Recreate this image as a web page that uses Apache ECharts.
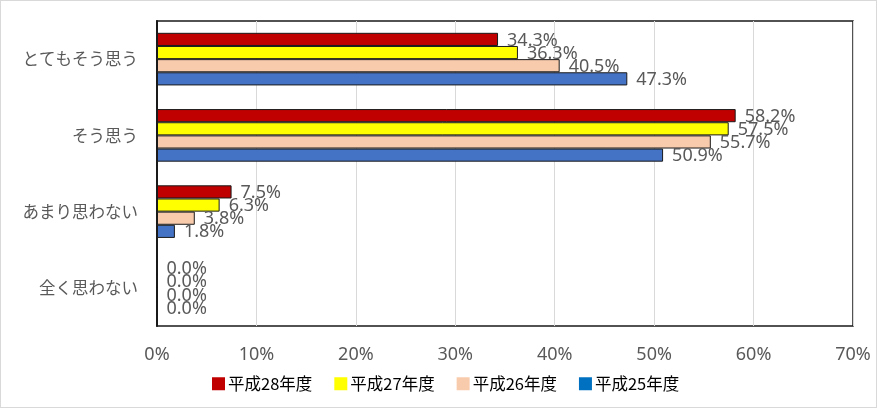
<!DOCTYPE html>
<html>
<head>
<meta charset="utf-8">
<script src="https://cdn.jsdelivr.net/npm/echarts@6/dist/echarts.min.js"></script>
<style>
  html, body { margin: 0; padding: 0; background: #fff; }
  #chart { width: 877px; height: 408px; box-sizing: border-box; border: 1px solid #d9d9d9; }
</style>
</head>
<body>
<div id="chart"></div>
<script>
// 回答カテゴリ（上から順）
const categories = ['とてもそう思う', 'そう思う', 'あまり思わない', '全く思わない'];

// 年度ごとの割合 (%)
const h28 = [34.3, 58.2, 7.5, 0.0];
const h27 = [36.3, 57.5, 6.3, 0.0];
const h26 = [40.5, 55.7, 3.8, 0.0];
const h25 = [47.3, 50.9, 1.8, 0.0];

const seriesNames = ['平成28年度', '平成27年度', '平成26年度', '平成25年度'];
const xTicks = [0, 10, 20, 30, 40, 50, 60, 70];

const COLORS = {
  h28: '#C00000',
  h27: '#FFFF00',
  h26: '#F8CBAD',
  h25: '#4472C4',
  h25Legend: '#0070C0',
  grid: '#d9d9d9',
  text: '#595959',
  border: '#1a1a1a'
};

const FONT = '"Noto Sans CJK JP", "Noto Sans", sans-serif';

const chart = echarts.init(document.getElementById('chart'));

const makeSeries = (name, data, color) => ({
  name,
  type: 'bar',
  data,
  barGap: '0%',
  barCategoryGap: '31%',
  itemStyle: { color, borderColor: COLORS.border, borderWidth: 1 },
  label: {
    show: true,
    position: 'right',
    distance: 9,
    offset: [0, 1],
    color: COLORS.text,
    fontSize: 18,
    fontFamily: '"Noto Sans", sans-serif',
    formatter: (p) => p.value.toFixed(1) + '%'
  }
});

chart.setOption({
  animation: false,
  backgroundColor: '#fff',
  grid: {
    left: 156, right: 23, top: 20, bottom: 81,
    show: true,
    borderColor: COLORS.border,
    borderWidth: 1.5
  },
  legend: {
    bottom: 10,
    left: 206,
    itemWidth: 13,
    itemHeight: 13,
    itemGap: 22,
    icon: 'rect',
    textStyle: { fontSize: 16.5, color: '#000', fontFamily: FONT, padding: [0, 0, 0, -2] },
    data: [
      { name: seriesNames[0], itemStyle: { color: COLORS.h28, borderWidth: 0 } },
      { name: seriesNames[1], itemStyle: { color: COLORS.h27, borderWidth: 0 } },
      { name: seriesNames[2], itemStyle: { color: COLORS.h26, borderWidth: 0 } },
      { name: seriesNames[3], itemStyle: { color: COLORS.h25Legend, borderWidth: 0 } }
    ]
  },
  xAxis: {
    type: 'value',
    min: xTicks[0],
    max: xTicks[xTicks.length - 1],
    interval: 10,
    axisLine: { show: false },
    axisTick: { show: false },
    splitLine: { show: true, lineStyle: { color: COLORS.grid, width: 1 } },
    axisLabel: {
      color: COLORS.text,
      fontSize: 18,
      fontFamily: '"Noto Sans", sans-serif',
      margin: 20,
      formatter: (v) => v + '%'
    }
  },
  yAxis: {
    type: 'category',
    data: categories,
    inverse: true,
    axisLine: { show: true, lineStyle: { color: COLORS.border, width: 2 } },
    axisTick: { show: false },
    axisLabel: { color: COLORS.text, fontSize: 16.5, fontFamily: FONT, margin: 19 }
  },
  series: [
    makeSeries(seriesNames[0], h28, COLORS.h28),
    makeSeries(seriesNames[1], h27, COLORS.h27),
    makeSeries(seriesNames[2], h26, COLORS.h26),
    makeSeries(seriesNames[3], h25, COLORS.h25)
  ]
});
</script>
</body>
</html>
